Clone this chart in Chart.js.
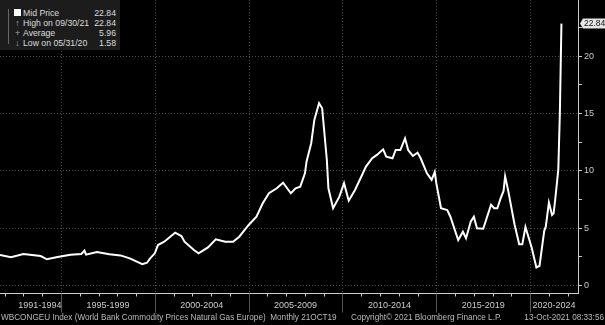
<!DOCTYPE html>
<html lang="en">
<head>
<meta charset="UTF-8">
<title>WBCONGEU Index</title>
<script src="https://cdn.jsdelivr.net/npm/chart.js@4.4.0/dist/chart.umd.min.js"></script>
<style>
  html, body { margin: 0; padding: 0; background: #000; }
  #wrap { position: relative; width: 605px; height: 325px; background: #000; overflow: hidden;
          font-family: "Liberation Sans", Arial, sans-serif; }
  #chart { position: absolute; left: 0; top: 0; }
  #legend { position: absolute; left: 0; top: 0; width: 120px; height: 50px; background: #1c1c1c; color: #ddd; font-size: 8.7px; }
  #legend .tree { position: absolute; left: 8px; top: 9px; width: 1px; height: 35px; background: #666; }
  #legend .row { position: absolute; left: 0; width: 120px; height: 10px; line-height: 10px; white-space: nowrap; }
  #legend .ico { position: absolute; left: 14px; width: 7px; text-align: center; color: #aaa; }
  #legend .sq { top: 1px; width: 7px; height: 7px; background: #fff; }
  #legend .lbl { position: absolute; left: 23px; }
  #legend .val { position: absolute; right: 4px; }
  #footer span { position: absolute; top: 313px; font-size: 8.2px; color: #bbb; white-space: nowrap; }
</style>
</head>
<body>
<div id="wrap">
  <canvas id="chart" width="605" height="325"></canvas>
  <div id="legend">
    <div class="tree"></div>
    <div class="row" style="top:8px"><span class="ico sq"></span><span class="lbl">Mid Price</span><span class="val">22.84</span></div>
    <div class="row" style="top:18px"><span class="ico">&#8593;</span><span class="lbl">High on 09/30/21</span><span class="val">22.84</span></div>
    <div class="row" style="top:28px"><span class="ico">+</span><span class="lbl">Average</span><span class="val">5.96</span></div>
    <div class="row" style="top:38px"><span class="ico">&#8595;</span><span class="lbl">Low on 05/31/20</span><span class="val">1.58</span></div>
  </div>
  <div id="footer">
    <span style="left:1px">WBCONGEU Index (World Bank Commodity Prices Natural Gas Europe)&nbsp; Monthly 21OCT19</span>
    <span style="left:351px">Copyright&copy; 2021 Bloomberg Finance L.P.</span>
    <span style="right:1px">13-Oct-2021 08:33:56</span>
  </div>
</div>
<script>
  // monthly mid price
  var months = [
    '1991-10','1992-05','1993-01','1993-12','1994-04','1994-10','1995-07','1996-02','1996-04','1996-05',
    '1996-12','1997-08','1998-03','1998-09','1999-05','1999-08','1999-10','2000-01','2000-03','2000-07',
    '2001-02','2001-06','2001-08','2002-02','2002-05','2002-11','2003-04','2003-10','2004-03','2004-07',
    '2005-01','2005-06','2005-10','2006-02','2006-07','2006-11','2007-04','2007-07','2007-10','2008-01',
    '2008-02','2008-05','2008-07','2008-10','2008-12','2009-03','2009-04','2009-07','2009-11','2010-02',
    '2010-05','2010-09','2011-01','2011-04','2011-08','2011-11','2012-03','2012-05','2012-09','2012-11',
    '2013-02','2013-05','2013-07','2013-10','2014-01','2014-03','2014-07','2014-10','2014-12','2015-01',
    '2015-04','2015-08','2015-10','2016-03','2016-06','2016-08','2016-11','2017-01','2017-03','2017-07',
    '2017-12','2018-02','2018-04','2018-06','2018-08','2018-09','2018-11','2019-03','2019-06','2019-08',
    '2019-10','2020-02','2020-05','2020-07','2020-10','2020-11','2021-01','2021-03','2021-04','2021-05',
    '2021-07','2021-08','2021-09'
  ];
  var midPrice = [
    2.66, 2.46, 2.75, 2.57, 2.29, 2.46, 2.69, 2.75, 3.04, 2.69,
    2.92, 2.72, 2.63, 2.37, 1.86, 1.99, 2.37, 2.81, 3.53, 3.82,
    4.61, 4.32, 3.82, 3.10, 2.81, 3.33, 4.03, 3.82, 3.82, 4.26,
    5.28, 6.00, 7.17, 8.05, 8.48, 8.97, 8.05, 8.48, 8.62, 9.79,
    10.80, 12.41, 14.44, 15.90, 15.46, 10.95, 8.48, 6.74, 7.75, 8.92,
    7.40, 8.33, 9.49, 10.37, 11.10, 11.39, 11.88, 11.24, 11.10, 11.82,
    11.82, 12.84, 11.82, 11.30, 11.59, 11.10, 9.79, 9.21, 9.90, 8.92,
    6.74, 6.59, 6.00, 3.97, 4.69, 4.12, 5.57, 6.00, 4.99, 4.95,
    7.05, 6.74, 6.74, 7.55, 8.25, 9.52, 8.25, 5.35, 3.60, 3.60,
    5.10, 3.30, 1.58, 1.72, 4.77, 5.13, 7.24, 6.15, 6.30, 7.46,
    10.10, 15.00, 22.84
  ];
  var yTicks = [0, 2.5, 5, 7.5, 10, 12.5, 15, 17.5, 20, 22.5];
  var periodStarts = [1991, 1995, 2000, 2005, 2010, 2015, 2020];
  var periodLabels = ['1991-1994', '1995-1999', '2000-2004', '2005-2009', '2010-2014', '2015-2019', '2020-2024'];
  var xMin = 1991.75, xMax = 2022.55;

  var points = months.map(function (m, i) {
    return { x: parseInt(m.slice(0, 4)) + (parseInt(m.slice(5)) - 1) / 12, y: midPrice[i] };
  });

  // bottom axis, vertical grid, last value tag
  var bloombergAxis = {
    id: 'bloombergAxis',
    beforeDatasetsDraw: function (chart) {
      var c = chart.ctx, a = chart.chartArea, xs = chart.scales.x;
      c.save();
      c.strokeStyle = '#4a4a4a';
      c.lineWidth = 1;
      c.setLineDash([1, 2]);
      for (var y = 1995; y <= 2020; y += 5) {
        var px = Math.round(xs.getPixelForValue(y)) + 0.5;
        c.beginPath(); c.moveTo(px, a.top); c.lineTo(px, a.bottom); c.stroke();
      }
      c.restore();
    },
    afterDraw: function (chart) {
      var c = chart.ctx, a = chart.chartArea, xs = chart.scales.x, ys = chart.scales.y;
      c.save();
      var by = Math.round(a.bottom) + 0.5;
      c.strokeStyle = '#ccc';
      c.lineWidth = 1;
      c.beginPath(); c.moveTo(a.left, by); c.lineTo(a.right, by); c.stroke();
      for (var y = 1992; y <= 2022; y++) {
        var px = Math.round(xs.getPixelForValue(y)) + 0.5;
        c.beginPath(); c.moveTo(px, by); c.lineTo(px, by + 3); c.stroke();
      }
      c.strokeStyle = '#555';
      for (var y = 1995; y <= 2020; y += 5) {
        var px = Math.round(xs.getPixelForValue(y)) + 0.5;
        c.beginPath(); c.moveTo(px, by); c.lineTo(px, by + 19); c.stroke();
      }
      c.fillStyle = '#ccc';
      c.font = '9px "Liberation Sans", Arial, sans-serif';
      c.textAlign = 'center';
      c.textBaseline = 'middle';
      periodStarts.forEach(function (s, i) {
        var from = Math.max(s, xMin), to = Math.min(s + 5, xMax);
        var cx = (xs.getPixelForValue(from) + xs.getPixelForValue(to)) / 2;
        c.fillText(periodLabels[i], cx, by + 12);
      });
      // last value tag on the right axis
      var last = midPrice[midPrice.length - 1];
      var ty = ys.getPixelForValue(last);
      var tx = a.right + 2;
      c.fillStyle = '#e6e6e6';
      c.beginPath();
      c.moveTo(tx, ty);
      c.lineTo(tx + 3, ty - 5);
      c.lineTo(605, ty - 5);
      c.lineTo(605, ty + 5);
      c.lineTo(tx + 3, ty + 5);
      c.closePath();
      c.fill();
      c.fillStyle = '#111';
      c.textAlign = 'left';
      c.font = '8.5px "Liberation Sans", Arial, sans-serif';
      c.fillText(last.toFixed(2), tx + 4, ty + 0.5);
      c.restore();
    }
  };

  var chart = new Chart(document.getElementById('chart').getContext('2d'), {
    type: 'line',
    data: {
      datasets: [{
        label: 'Mid Price',
        data: points,
        borderColor: '#fff',
        borderWidth: 2,
        pointRadius: 0,
        tension: 0,
        fill: false
      }]
    },
    options: {
      responsive: false,
      animation: false,
      layout: { padding: { top: 0, right: 0, bottom: 32, left: 0 } },
      plugins: { legend: { display: false }, tooltip: { enabled: false } },
      scales: {
        x: { type: 'linear', min: xMin, max: xMax, display: false },
        y: {
          position: 'right',
          min: -0.65,
          max: 24.9,
          afterBuildTicks: function (scale) {
            scale.ticks = yTicks.map(function (v) { return { value: v }; });
          },
          afterFit: function (scale) {
            scale.width = 27;
            scale.paddingTop = 0;
            scale.paddingBottom = 0;
          },
          ticks: {
            color: '#ccc',
            padding: 2,
            font: { size: 9, family: '"Liberation Sans", Arial, sans-serif' },
            callback: function (v) { return v % 5 === 0 ? String(v) : ''; }
          },
          grid: {
            color: function (ctx) { return ctx.tick && ctx.tick.value % 5 === 0 ? '#4a4a4a' : 'transparent'; },
            tickColor: '#ccc',
            tickLength: 4,
            lineWidth: 1
          },
          border: { display: true, color: '#ccc', dash: [1, 2] }
        }
      }
    },
    plugins: [bloombergAxis]
  });
</script>
</body>
</html>
